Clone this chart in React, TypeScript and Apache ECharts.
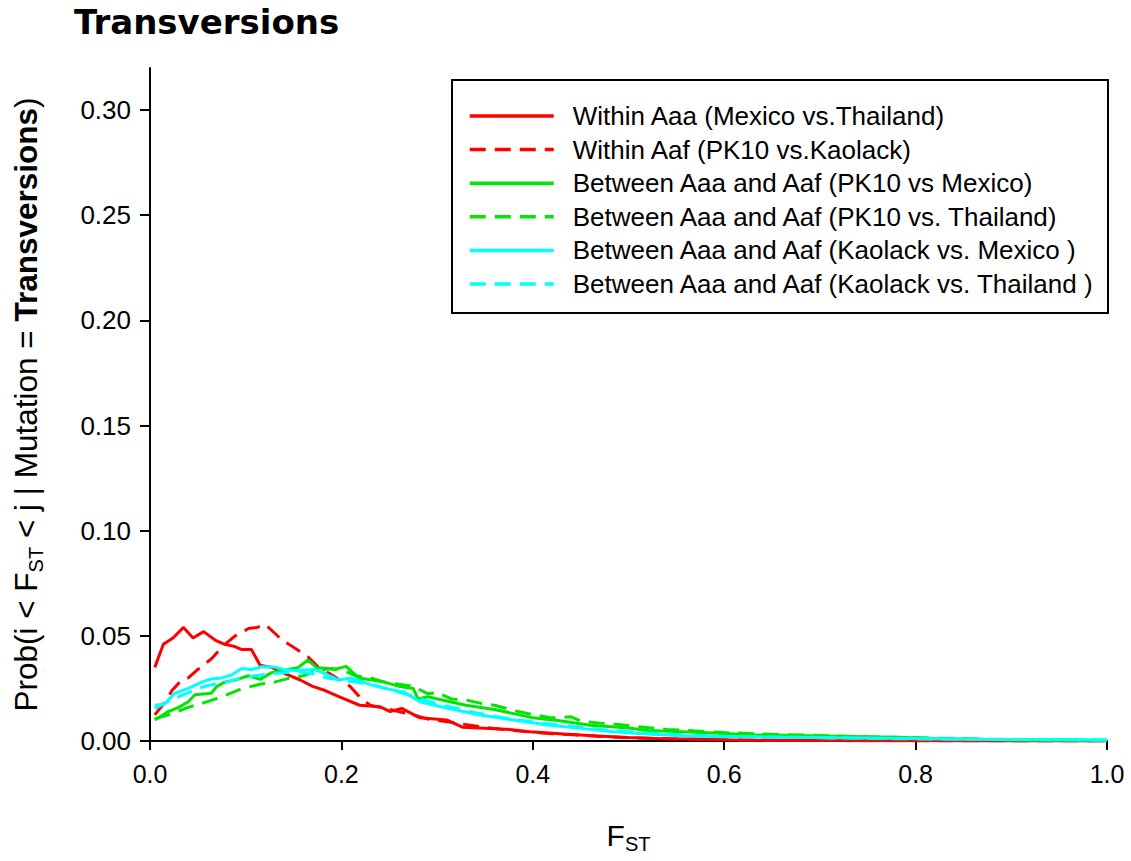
import React, { useEffect, useRef } from "react";
import * as echarts from "echarts";

const FONT = "Liberation Sans, Arial, sans-serif";

const seriesNames = [
  "Within Aaa (Mexico vs.Thailand)",
  "Within Aaf (PK10 vs.Kaolack)",
  "Between Aaa and Aaf (PK10 vs Mexico)",
  "Between Aaa and Aaf (PK10 vs. Thailand)",
  "Between Aaa and Aaf (Kaolack vs. Mexico )",
  "Between Aaa and Aaf (Kaolack vs. Thailand )",
];

const seriesColors = ["#ff0000", "#ff0000", "#00e600", "#00e600", "#00ffff", "#00ffff"];
const seriesDashed = [false, true, false, true, false, true];

const yTicks = [0, 0.05, 0.1, 0.15, 0.2, 0.25, 0.3];

const withinAaa: [number, number][] = [
  [0.005, 0.035], [0.014, 0.046], [0.024, 0.049], [0.035, 0.054], [0.045, 0.049],
  [0.056, 0.052], [0.068, 0.048], [0.078, 0.046], [0.088, 0.045], [0.096, 0.0435],
  [0.106, 0.0435], [0.115, 0.036], [0.127, 0.035], [0.141, 0.032], [0.157, 0.029],
  [0.17, 0.026], [0.183, 0.024], [0.198, 0.021], [0.219, 0.017], [0.24, 0.0163],
  [0.251, 0.014], [0.263, 0.0155], [0.282, 0.011], [0.31, 0.01], [0.327, 0.0065],
  [0.355, 0.006], [0.376, 0.0055], [0.397, 0.0044], [0.432, 0.0033], [0.467, 0.0024],
  [0.5, 0.0017], [0.536, 0.0011], [0.58, 0.0008], [0.62, 0.0004], [0.7, 0.0002],
  [0.8, 0.0001], [1.0, 0.0],
];

const withinAaf: [number, number][] = [
  [0.005, 0.0125], [0.015, 0.018], [0.023, 0.024], [0.033, 0.029], [0.04, 0.03],
  [0.05, 0.034], [0.064, 0.039], [0.077, 0.0455], [0.089, 0.05], [0.103, 0.0535],
  [0.112, 0.054], [0.12, 0.0555], [0.131, 0.051], [0.138, 0.048], [0.152, 0.044],
  [0.165, 0.04], [0.176, 0.035], [0.188, 0.032], [0.198, 0.029], [0.209, 0.026],
  [0.219, 0.021], [0.23, 0.017], [0.25, 0.015], [0.27, 0.013], [0.29, 0.0105],
  [0.32, 0.0085], [0.35, 0.0065], [0.38, 0.005], [0.42, 0.0035], [0.46, 0.0025],
  [0.5, 0.0015], [0.55, 0.001], [0.6, 0.0006], [0.65, 0.0004], [0.7, 0.0002],
  [0.8, 0.0001], [1.0, 0.0],
];

const pk10Mexico: [number, number][] = [
  [0.005, 0.01], [0.019, 0.014], [0.03, 0.016], [0.04, 0.0187], [0.047, 0.022],
  [0.064, 0.0227], [0.07, 0.026], [0.078, 0.028], [0.089, 0.029], [0.103, 0.031],
  [0.115, 0.0293], [0.127, 0.0325], [0.145, 0.034], [0.155, 0.035], [0.165, 0.0385],
  [0.174, 0.035], [0.185, 0.0345], [0.193, 0.034], [0.205, 0.0355], [0.218, 0.03],
  [0.232, 0.029], [0.245, 0.028], [0.26, 0.026], [0.275, 0.025], [0.28, 0.02],
  [0.29, 0.021], [0.31, 0.019], [0.33, 0.017], [0.36, 0.015], [0.38, 0.013],
  [0.4, 0.011], [0.43, 0.0095], [0.46, 0.0075], [0.5, 0.0062], [0.52, 0.005],
  [0.55, 0.0045], [0.6, 0.0036], [0.63, 0.003], [0.7, 0.0024], [0.78, 0.0018],
  [0.82, 0.0012], [0.9, 0.0005], [1.0, 0.0002],
];

const pk10Thailand: [number, number][] = [
  [0.005, 0.0105], [0.025, 0.0133], [0.04, 0.016], [0.06, 0.0187], [0.075, 0.021],
  [0.095, 0.0247], [0.115, 0.027], [0.13, 0.028], [0.145, 0.0298], [0.16, 0.031],
  [0.175, 0.0335], [0.19, 0.0345], [0.2, 0.034], [0.215, 0.031], [0.23, 0.03],
  [0.245, 0.028], [0.26, 0.027], [0.275, 0.026], [0.29, 0.0225], [0.3, 0.023],
  [0.315, 0.02], [0.33, 0.0195], [0.345, 0.018], [0.36, 0.017], [0.38, 0.0145],
  [0.4, 0.0125], [0.42, 0.011], [0.44, 0.0115], [0.45, 0.0095], [0.47, 0.0085],
  [0.49, 0.0078], [0.51, 0.0068], [0.54, 0.0055], [0.57, 0.0048], [0.6, 0.004],
  [0.65, 0.0032], [0.7, 0.0026], [0.75, 0.002], [0.8, 0.0016], [0.84, 0.0012],
  [0.9, 0.0006], [1.0, 0.0002],
];

const kaolackMexico: [number, number][] = [
  [0.005, 0.017], [0.015, 0.0175], [0.026, 0.0227], [0.04, 0.025], [0.054, 0.028],
  [0.064, 0.0295], [0.075, 0.03], [0.085, 0.0314], [0.096, 0.0345], [0.106, 0.034],
  [0.117, 0.0353], [0.13, 0.0352], [0.141, 0.0338], [0.152, 0.0335], [0.162, 0.0338],
  [0.172, 0.034], [0.183, 0.032], [0.197, 0.029], [0.21, 0.03], [0.232, 0.0266],
  [0.246, 0.025], [0.266, 0.0232], [0.282, 0.0187], [0.31, 0.0157], [0.345, 0.0124],
  [0.38, 0.01], [0.415, 0.0076], [0.45, 0.006], [0.484, 0.0044], [0.519, 0.0033],
  [0.554, 0.0025], [0.6, 0.002], [0.655, 0.0018], [0.72, 0.0015], [0.794, 0.0012],
  [0.85, 0.0008], [1.0, 0.0006],
];

const kaolackThailand: [number, number][] = [
  [0.005, 0.0155], [0.02, 0.019], [0.035, 0.022], [0.05, 0.025], [0.063, 0.0266],
  [0.08, 0.028], [0.095, 0.03], [0.11, 0.031], [0.125, 0.032], [0.14, 0.0325],
  [0.155, 0.033], [0.17, 0.032], [0.185, 0.03], [0.2, 0.029], [0.215, 0.028],
  [0.23, 0.027], [0.25, 0.0245], [0.27, 0.022], [0.29, 0.019], [0.31, 0.0165],
  [0.34, 0.0135], [0.37, 0.011], [0.4, 0.009], [0.44, 0.007], [0.48, 0.005],
  [0.52, 0.0038], [0.56, 0.0028], [0.6, 0.0022], [0.66, 0.0018], [0.72, 0.0014],
  [0.8, 0.001], [0.9, 0.0007], [1.0, 0.0005],
];

const seriesData = [withinAaa, withinAaf, pk10Mexico, pk10Thailand, kaolackMexico, kaolackThailand];

export default function App() {
  const ref = useRef<HTMLDivElement>(null);

  useEffect(() => {
    document.body.style.margin = "0";
    if (!ref.current) return;
    const chart = echarts.init(ref.current, undefined, { renderer: "svg" });

    const series = seriesNames.map((name, i) => ({
      name,
      type: "line",
      data: seriesData[i],
      showSymbol: false,
      symbol: "none",
      lineStyle: {
        color: seriesColors[i],
        width: 3,
        type: seriesDashed[i] ? [16, 9] : "solid",
      },
      itemStyle: { color: seriesColors[i] },
      z: 2 + i,
    }));

    chart.setOption({
      animation: false,
      backgroundColor: "#ffffff",
      title: {
        text: "Transversions",
        left: 69,
        top: 0,
        textStyle: { fontFamily: "DejaVu Sans", fontWeight: "bold", fontSize: 34, color: "#000" },
      },
      graphic: [
        {
          type: "rect",
          z: 1,
          shape: { x: 452, y: 80, width: 656, height: 233 },
          style: { fill: "#ffffff", stroke: "#000", lineWidth: 2 },
        },
      ],
      legend: {
        orient: "vertical",
        left: 463,
        top: 98,
        itemWidth: 84,
        itemHeight: 14,
        itemGap: 7.6,
        z: 10,
        data: seriesNames,
        lineStyle: { width: 3.5 },
        itemStyle: { opacity: 0 },
        textStyle: { fontFamily: FONT, fontSize: 26, color: "#000", padding: [0, 0, 0, 14] },
      },
      grid: { left: 150, right: 24, top: 68, bottom: 120, containLabel: false, outerBoundsMode: "none" },
      xAxis: {
        type: "value",
        min: 0,
        max: 1,
        interval: 0.2,
        name: "{f|F}{s|ST}",
        nameLocation: "middle",
        nameGap: 79,
        nameTextStyle: {
          rich: {
            f: { fontFamily: FONT, fontSize: 30, color: "#000", lineHeight: 30, verticalAlign: "top" },
            s: { fontFamily: FONT, fontSize: 20, color: "#000", lineHeight: 34, verticalAlign: "bottom" },
          },
        },
        axisLine: { show: true, onZero: false, lineStyle: { color: "#000", width: 2 } },
        axisTick: { show: true, length: 9, lineStyle: { color: "#000", width: 2 } },
        axisLabel: {
          fontFamily: FONT,
          fontSize: 25,
          color: "#000",
          margin: 20,
          formatter: (v: number) => v.toFixed(1),
        },
        splitLine: { show: false },
      },
      yAxis: {
        type: "value",
        min: 0,
        max: 0.32,
        interval: 0.05,
        name: "{n|Prob(i < F}{s|ST}{n| < j | Mutation = }{b|Transversions}{n|)}",
        nameLocation: "middle",
        nameRotate: 90,
        nameGap: 104,
        nameTextStyle: {
          rich: {
            n: { fontFamily: FONT, fontSize: 31.5, color: "#000", lineHeight: 33, verticalAlign: "top" },
            b: { fontFamily: FONT, fontSize: 31.5, fontWeight: "bold", color: "#000", lineHeight: 33, verticalAlign: "top" },
            s: { fontFamily: FONT, fontSize: 20, color: "#000", lineHeight: 36, verticalAlign: "bottom" },
          },
        },
        axisLine: { show: true, lineStyle: { color: "#000", width: 2 } },
        axisTick: { show: true, length: 10, customValues: yTicks, lineStyle: { color: "#000", width: 2 } },
        axisLabel: {
          customValues: yTicks,
          fontFamily: FONT,
          fontSize: 26,
          color: "#000",
          margin: 19,
          formatter: (v: number) => v.toFixed(2),
        },
        splitLine: { show: false },
      },
      series,
    });

    return () => chart.dispose();
  }, []);

  return <div ref={ref} style={{ width: 1131, height: 861 }} />;
}
